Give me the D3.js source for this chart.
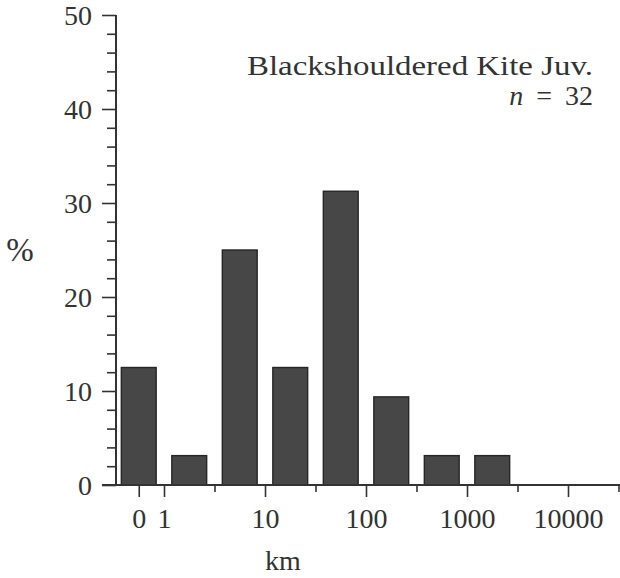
<!DOCTYPE html>
<html>
<head>
<meta charset="utf-8">
<script src="https://cdn.jsdelivr.net/npm/d3@7/dist/d3.min.js"></script>
<style>
  html, body { margin: 0; padding: 0; background: #fff; }
  svg text { font-family: "Liberation Serif", "Times New Roman", serif; fill: #333; }
</style>
</head>
<body>
<svg id="chart" width="620" height="578"></svg>
<script>
// Dispersal distances of juvenile Blackshouldered Kites, binned on a log scale (half-decade bins)
const binLabels = ["0", "1–3", "3–10", "10–30", "30–100", "100–300", "300–1000", "1000–3000", "3000–10000", "10000–30000"];
const binLow    = [0, 1, 3.162, 10, 31.62, 100, 316.2, 1000, 3162, 10000];
const binHigh   = [0, 3.162, 10, 31.62, 100, 316.2, 1000, 3162, 10000, 31623];
const percent   = [12.5, 3.125, 25, 12.5, 31.25, 9.375, 3.125, 3.125, 0, 0];

const xMajorTicks  = [1, 10, 100, 1000, 10000];
const xMajorLabels = ["1", "10", "100", "1000", "10000"];
const xMinorTicks  = [3.162, 31.62, 316.2, 3162, 31623];
const zeroLabel = "0";
const yMajorTicks = [0, 10, 20, 30, 40, 50];
const yMinorTicks = [2, 4, 6, 8, 12, 14, 16, 18, 22, 24, 26, 28, 32, 34, 36, 38, 42, 44, 46, 48];

const title = "Blackshouldered Kite Juv.";
const sampleSize = 32;

const svg = d3.select("#chart");
const ink = "#333";

// log distance axis; the "0 km" class sits a quarter decade left of 1 km
const x = d3.scaleLog().domain([1, 10000]).range([164, 568]);
const zeroPos = 0.5623;
const y = d3.scaleLinear().domain([0, 50]).range([485, 15]);

const halfDecade = x(3.162) - x(1);
const barW = halfDecade * 0.69;

const bins = binLabels.map((label, i) => ({
  label,
  centre: binLow[i] === 0 ? zeroPos : Math.sqrt(binLow[i] * binHigh[i]),
  value: percent[i]
}));

// bars
svg.append("g")
  .selectAll("rect")
  .data(bins.filter(d => d.value > 0))
  .join("rect")
  .attr("x", d => x(d.centre) - barW / 2)
  .attr("y", d => y(d.value))
  .attr("width", barW)
  .attr("height", d => y(0) - y(d.value))
  .attr("fill", "#474747")
  .attr("stroke", "#262626")
  .attr("stroke-width", 1.4);

// y axis: major and minor ticks
const yMaj = svg.append("g").attr("transform", "translate(116,0)")
  .call(d3.axisLeft(y).tickValues(yMajorTicks).tickSize(14).tickPadding(10).tickFormat(d3.format("d")));
const yMin = svg.append("g").attr("transform", "translate(116,0)")
  .call(d3.axisLeft(y).tickValues(yMinorTicks).tickSize(9).tickFormat(""));

// x axis: labelled decades, zero class, and half-decade bin boundaries
const xMaj = svg.append("g").attr("transform", `translate(0,${y(0)})`)
  .call(d3.axisBottom(x).tickValues([zeroPos, ...xMajorTicks]).tickSize(12).tickPadding(11)
    .tickFormat((d, i) => i === 0 ? zeroLabel : xMajorLabels[i - 1]));
const xMin = svg.append("g").attr("transform", `translate(0,${y(0)})`)
  .call(d3.axisBottom(x).tickValues(xMinorTicks).tickSize(7).tickFormat(""));

[yMaj, yMin, xMaj, xMin].forEach(g => {
  g.select(".domain").remove();
  g.selectAll(".tick line").attr("stroke", ink).attr("stroke-width", 1.6);
  g.selectAll(".tick text").attr("font-size", 28).attr("fill", "#333")
    .style("font-family", "'Liberation Serif', serif");
});
yMaj.selectAll(".tick text").attr("dy", "0.34em");
xMaj.selectAll(".tick text").attr("dy", "0.72em");

// axis lines
svg.append("line")
  .attr("x1", 116).attr("x2", 116)
  .attr("y1", y(50)).attr("y2", y(0))
  .attr("stroke", ink).attr("stroke-width", 2);
svg.append("line")
  .attr("x1", 102).attr("x2", 620)
  .attr("y1", y(0)).attr("y2", y(0))
  .attr("stroke", ink).attr("stroke-width", 1.8);

// axis titles
svg.append("text").attr("x", 20).attr("y", 261)
  .attr("text-anchor", "middle").attr("font-size", 33).text("%");
svg.append("text").attr("x", 283).attr("y", 570)
  .attr("text-anchor", "middle").attr("font-size", 28).text("km");

// caption
svg.append("text").attr("x", 247).attr("y", 75)
  .attr("font-size", 27)
  .attr("textLength", 346).attr("lengthAdjust", "spacingAndGlyphs")
  .text(title);
const nLabel = svg.append("text").attr("x", 593).attr("y", 105)
  .attr("text-anchor", "end").attr("font-size", 28);
nLabel.append("tspan").attr("font-style", "italic").text("n");
nLabel.append("tspan").attr("dx", 13).text("=");
nLabel.append("tspan").attr("dx", 13).text(String(sampleSize));
</script>
</body>
</html>
